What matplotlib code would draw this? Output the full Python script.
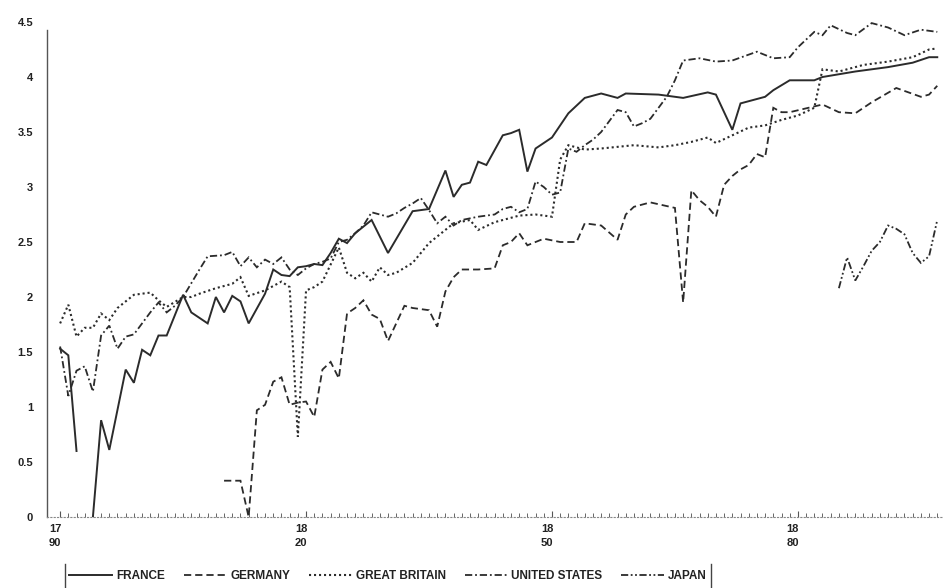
import numpy as np
import matplotlib
matplotlib.use("Agg")
import matplotlib.pyplot as plt
from matplotlib import font_manager
from matplotlib.lines import Line2D
import matplotlib.transforms as mtransforms

nan = np.nan

# ---------------- data ----------------
france_years = [1790,1791,1792,1793,1794,1795,1796,1798,1799,1800,
                1801,1802,1803,1805,1806,1808,1809,1810,1811,1812,
                1813,1815,1816,1817,1818,1819,1820,1821,1822,1823,
                1824,1825,1826,1828,1830,1833,1835,1837,1838,1839,
                1840,1841,1842,1844,1845,1846,1847,1848,1850,1852,
                1854,1856,1858,1859,1863,1866,1869,1870,1872,1873,
                1876,1877,1879,1882,1883,1887,1891,1894,1896,1897]
france_vals = [1.53,1.47,0.60,nan,0.00,0.88,0.61,1.34,1.22,1.52,
               1.47,1.65,1.65,2.02,1.86,1.76,2.00,1.86,2.01,1.96,
               1.76,2.03,2.25,2.20,2.19,2.27,2.28,2.30,2.29,2.40,
               2.53,2.49,2.58,2.70,2.40,2.78,2.80,3.15,2.91,3.02,
               3.04,3.23,3.20,3.47,3.49,3.52,3.14,3.35,3.45,3.67,
               3.81,3.85,3.81,3.85,3.84,3.81,3.86,3.84,3.52,3.76,
               3.82,3.88,3.97,3.97,4.00,4.05,4.09,4.13,4.18,4.18]

germany_years = [1810,1812,1813,1814,1815,1816,1817,1818,1819,1820,
                 1821,1822,1823,1824,1825,1826,1827,1828,1829,1830,
                 1831,1832,1833,1835,1836,1837,1838,1839,1841,1843,
                 1844,1845,1846,1847,1849,1851,1853,1854,1856,1858,
                 1859,1860,1862,1865,1866,1867,1868,1869,1870,1871,
                 1872,1873,1874,1875,1876,1877,1878,1879,1883,1885,
                 1887,1889,1892,1895,1896,1897]
germany_vals = [0.33,0.33,0.00,0.97,1.02,1.23,1.27,1.02,1.04,1.05,
                0.91,1.34,1.41,1.26,1.85,1.90,1.97,1.84,1.80,1.60,
                1.76,1.92,1.90,1.88,1.73,2.05,2.18,2.25,2.25,2.26,
                2.47,2.50,2.58,2.47,2.53,2.50,2.50,2.67,2.65,2.52,
                2.75,2.82,2.86,2.81,1.95,2.97,2.88,2.82,2.73,3.02,
                3.10,3.16,3.20,3.30,3.27,3.72,3.68,3.68,3.75,3.68,
                3.67,3.77,3.90,3.82,3.84,3.92]

gb_years = [1790,1791,1792,1793,1794,1795,1796,1797,1799,1801,
            1802,1803,1805,1806,1807,1809,1811,1812,1813,1815,
            1817,1818,1819,1820,1821,1822,1824,1825,1826,1827,
            1828,1829,1830,1831,1833,1835,1837,1838,1840,1841,
            1843,1844,1846,1848,1850,1851,1852,1854,1856,1860,
            1863,1865,1867,1869,1870,1872,1874,1876,1878,1880,
            1882,1883,1885,1888,1891,1894,1896,1897]
gb_vals = [1.76,1.93,1.64,1.72,1.72,1.85,1.79,1.90,2.02,2.04,
           1.97,1.91,2.00,2.00,2.03,2.08,2.12,2.18,2.01,2.06,
           2.14,2.09,0.73,2.06,2.09,2.14,2.45,2.22,2.17,2.22,
           2.14,2.27,2.20,2.22,2.31,2.49,2.61,2.67,2.70,2.61,
           2.68,2.70,2.74,2.75,2.73,3.25,3.38,3.34,3.35,3.38,
           3.36,3.38,3.41,3.45,3.40,3.47,3.54,3.56,3.61,3.65,
           3.72,4.07,4.05,4.11,4.14,4.18,4.25,4.26]

us_years = [1790,1791,1792,1793,1794,1795,1796,1797,1798,1799,
            1801,1802,1803,1804,1805,1807,1808,1810,1811,1812,
            1813,1814,1815,1816,1817,1818,1819,1820,1821,1822,
            1823,1824,1825,1826,1827,1828,1829,1830,1831,1832,
            1833,1834,1835,1836,1837,1838,1839,1841,1843,1844,
            1845,1846,1847,1848,1849,1850,1851,1852,1853,1854,
            1855,1856,1857,1858,1859,1860,1861,1862,1863,1864,
            1865,1866,1868,1870,1872,1875,1877,1879,1880,1881,
            1882,1883,1884,1886,1887,1889,1891,1893,1895,1897]
us_vals = [1.55,1.10,1.33,1.37,1.14,1.65,1.74,1.53,1.64,1.66,
           1.86,1.95,1.86,1.92,2.00,2.25,2.37,2.38,2.41,2.28,
           2.36,2.27,2.34,2.30,2.36,2.25,2.20,2.26,2.30,2.32,
           2.35,2.50,2.52,2.58,2.65,2.77,2.75,2.73,2.76,2.81,
           2.85,2.90,2.79,2.67,2.73,2.65,2.70,2.73,2.75,2.80,
           2.82,2.77,2.80,3.05,3.00,2.93,2.95,3.35,3.32,3.38,
           3.43,3.50,3.60,3.70,3.68,3.55,3.58,3.62,3.72,3.82,
           3.97,4.15,4.17,4.14,4.15,4.23,4.17,4.18,4.27,4.34,
           4.41,4.38,4.47,4.40,4.38,4.49,4.45,4.38,4.43,4.41]

japan_years = [1885,1886,1887,1888,1889,1890,1891,1892,1893,1894,1895,1896,1897]
japan_vals = [2.08,2.36,2.15,2.28,2.42,2.50,2.65,2.62,2.57,2.40,2.31,2.37,2.70]

series_names = ["FRANCE", "GERMANY", "GREAT BRITAIN", "UNITED STATES", "JAPAN"]
y_ticks = [0, 0.5, 1, 1.5, 2, 2.5, 3, 3.5, 4, 4.5]
y_ticklabels = ["0", "0.5", "1", "1.5", "2", "2.5", "3", "3.5", "4", "4.5"]
x_ticks = [1790, 1820, 1850, 1880]
x_ticklabels = ["17\n90", "18\n20", "18\n50", "18\n80"]

# ---------------- fonts ----------------
available = {f.name for f in font_manager.fontManager.ttflist}
font = "DejaVu Sans"
for cand in ["Liberation Sans Narrow", "DejaVu Sans Condensed", "Liberation Sans"]:
    if cand in available:
        font = cand
        break
plt.rcParams["font.family"] = [font, "DejaVu Sans"]

ink = "#2b2b2b"

fig = plt.figure(figsize=(9.43, 5.88), dpi=100)
ax = fig.add_axes([47 / 943, 71 / 588, 1 - 47 / 943, 495 / 588])

styles = [
    dict(linestyle="-", lw=1.4),
    dict(linestyle=(0, (4, 2.2)), lw=1.3),
    dict(linestyle=(0, (1, 1.4)), lw=1.5),
    dict(linestyle=(0, (4, 1.6, 1, 1.6)), lw=1.3),
    dict(linestyle=(0, (4, 1.4, 1, 1.4, 1, 1.4)), lw=1.3),
]
data = [(france_years, france_vals), (germany_years, germany_vals),
        (gb_years, gb_vals), (us_years, us_vals), (japan_years, japan_vals)]

handles = []
for (yrs, vals), st, name in zip(data, styles, series_names):
    h, = ax.plot(yrs, vals, color=ink, solid_joinstyle="miter",
                 dash_joinstyle="miter", label=name, **st)
    handles.append(h)

ax.set_xlim(1788.4, 1897.7)
ax.set_ylim(0, 4.5)

for s in ["top", "right"]:
    ax.spines[s].set_visible(False)
ax.spines["left"].set_color("#555555")
ax.spines["left"].set_linewidth(1.0)
ax.spines["left"].set_bounds(0, 4.43)
ax.spines["bottom"].set_color("#888888")
ax.spines["bottom"].set_linewidth(0.8)
ax.spines["bottom"].set_linestyle((0, (1, 2)))

ax.set_yticks(y_ticks)
ax.set_yticklabels(y_ticklabels)
ax.tick_params(axis="y", length=0, pad=10, labelsize=8, labelcolor="#222222")
for t in ax.get_yticklabels():
    t.set_fontweight("bold")

ax.set_xticks(x_ticks)
ax.set_xticklabels(x_ticklabels)
ax.set_xticks(np.arange(1790, 1898, 1), minor=True)
ax.tick_params(axis="x", which="major", direction="in", length=4, width=0.8,
               color="#555555", pad=5, labelsize=8, labelcolor="#222222")
ax.tick_params(axis="x", which="minor", direction="in", length=3, width=0.7,
               color="#666666")
offset = mtransforms.ScaledTranslation(-5 / 100, 0, fig.dpi_scale_trans)
for t in ax.get_xticklabels():
    t.set_fontweight("bold")
    t.set_linespacing(1.45)
    t.set_transform(t.get_transform() + offset)

leg = fig.legend(handles=handles, labels=series_names, loc="center",
                 bbox_to_anchor=(388 / 943, 1 - 576 / 588), ncol=5,
                 frameon=False, handlelength=3.6, handletextpad=0.35,
                 columnspacing=1.6, borderaxespad=0, borderpad=0.2,
                 prop={"size": 8.5, "weight": "bold"})
for txt in leg.get_texts():
    txt.set_color("#222222")

fig.canvas.draw()
bb = leg.get_window_extent()
inv = fig.transFigure.inverted()
(x0, y0), (x1, y1) = inv.transform([[bb.x0, bb.y0], [bb.x1, bb.y1]])
for xx in (x0 - 0.002, x1 + 0.002):
    fig.add_artist(Line2D([xx, xx], [y0 - 0.008, y1 + 0.006],
                          transform=fig.transFigure, color="#444444", lw=1.0))

fig.savefig("out.png", dpi=100, facecolor="white")
